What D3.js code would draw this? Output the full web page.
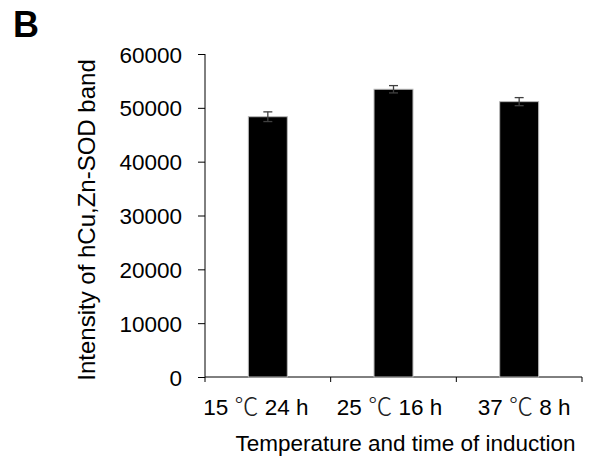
<!DOCTYPE html>
<html>
<head>
<meta charset="utf-8">
<script src="https://cdn.jsdelivr.net/npm/d3@7"></script>
<style>
  body { margin: 0; background: #fff; }
  svg { font-family: 'Liberation Sans', Arial, sans-serif; }
  .axis path, .axis line { stroke: #000; }
</style>
</head>
<body>
<svg width="590" height="465"></svg>
<script>
const categories = ['15 ℃ 24 h', '25 ℃ 16 h', '37 ℃ 8 h'];
const values = [48350, 53450, 51150];
const errors = [900, 680, 750];
const yTicks = [0, 10000, 20000, 30000, 40000, 50000, 60000];

// label nudges, the original labels are not centred on their bars
const labelDx = [-12, -4, 5];

let svg = d3.select('svg');

const margin = {top: 54, right: 8, bottom: 88, left: 205},
    width = +svg.attr('width') - margin.left - margin.right,
    height = +svg.attr('height') - margin.top - margin.bottom;

let g = svg.append('g').attr('transform', `translate(${margin.left}, ${margin.top})`);

let x = d3.scaleBand().domain(categories).range([0, width]).paddingInner(0.69).paddingOuter(0.345),
    y = d3.scaleLinear().domain([0, 60000]).range([height, 0]);

// y axis
let yAxisG = g.append('g')
    .attr('class', 'axis axis--y')
    .call(d3.axisLeft(y).tickValues(yTicks).tickSize(7).tickPadding(16).tickFormat(d3.format('d')));
yAxisG.select('.domain').attr('d', `M0,0V${height}`);
yAxisG.selectAll('text').style('font-size', '22.5px').attr('dy', '0.36em');

// x axis: labels centered, ticks on band edges
let xAxisG = g.append('g')
    .attr('class', 'axis axis--x')
    .attr('transform', `translate(0, ${height})`)
    .call(d3.axisBottom(x).tickSize(0).tickPadding(22));
xAxisG.select('.domain').attr('d', `M0,0H${width}`);
xAxisG.selectAll('.tick text')
    .style('font-size', '22.5px')
    .attr('dx', (d, i) => labelDx[i])
    .each(function(d) {
      let t = d3.select(this), parts = d.split('℃');
      t.text(null);
      t.append('tspan').text(parts[0]);
      t.append('tspan')
        .style('font-family', "'Noto Sans CJK SC'")
        .style('font-size', '24px')
        .style('font-weight', 300)
        .attr('fill', '#222')
        .text('℃');
      t.append('tspan').text(parts[1]);
    });

let edges = categories.map((d) => x(d) - x.step() * x.paddingInner() / 2).concat([width]);
xAxisG.selectAll('.edge')
  .data(edges)
  .enter().append('line')
    .attr('class', 'edge')
    .attr('x1', (d) => d).attr('x2', (d) => d)
    .attr('y1', 0).attr('y2', 5)
    .attr('stroke', '#000');

// bars
g.append('g')
  .selectAll('rect')
  .data(values)
  .enter().append('rect')
    .attr('x', (d, i) => x(categories[i]))
    .attr('y', (d) => y(d))
    .attr('width', x.bandwidth())
    .attr('height', (d) => height - y(d))
    .attr('fill', '#000')
    .attr('stroke', '#b8b8b8')
    .attr('stroke-width', 1);

// error bars
let eb = g.append('g').attr('stroke', '#404040').attr('stroke-width', 1.3);
values.forEach((v, i) => {
  let cx = x(categories[i]) + x.bandwidth() / 2;
  eb.append('line').attr('x1', cx).attr('x2', cx).attr('y1', y(v + errors[i])).attr('y2', y(v - errors[i]));
  [v + errors[i], v - errors[i]].forEach((e) => {
    eb.append('line').attr('x1', cx - 4.5).attr('x2', cx + 4.5).attr('y1', y(e)).attr('y2', y(e));
  });
});

// titles
svg.append('text')
    .attr('transform', 'translate(95, 220) rotate(-90)')
    .attr('text-anchor', 'middle')
    .style('font-size', '24px')
    .text('Intensity of hCu,Zn-SOD band');

svg.append('text')
    .attr('x', 405.5)
    .attr('y', 451)
    .attr('text-anchor', 'middle')
    .style('font-size', '22.5px')
    .text('Temperature and time of induction');

svg.append('text')
    .attr('x', 13)
    .attr('y', 37)
    .style('font-size', '36px')
    .style('font-weight', 'bold')
    .text('B');
</script>
</body>
</html>
